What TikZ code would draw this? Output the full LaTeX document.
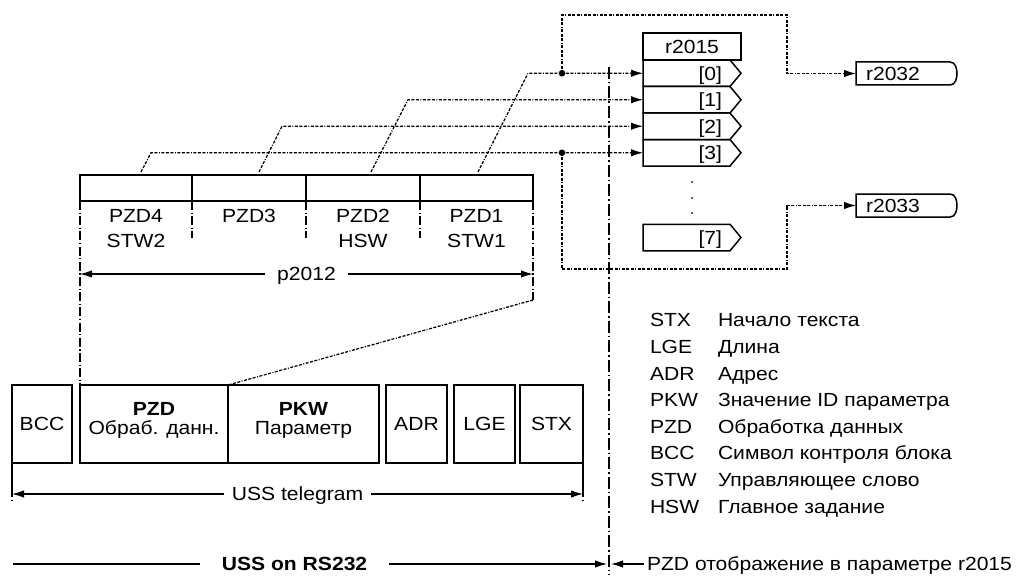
\documentclass[tikz,border=0pt]{standalone}
\usepackage{fontspec}
\setmainfont{Liberation Sans}[FakeStretch=1.11]
\usetikzlibrary{arrows.meta}
\newcommand\fsz{\fontsize{19pt}{22pt}\selectfont}
\begin{document}
\begin{tikzpicture}[x=1pt,y=-1pt,
  every node/.style={font=\fsz, inner sep=0pt, outer sep=0pt},
  txt/.style={text height=13.6pt, text depth=0pt},
  box/.style={draw, line width=1.5pt, inner sep=0pt, outer sep=0pt},
  ln/.style={line width=1.5pt},
  fine/.style={line width=1.25pt, dash pattern=on 3pt off 1.5pt on 3pt off 1.5pt on 3pt off 1.5pt on 1pt off 1.5pt},
  dd/.style={line width=1.2pt, dash pattern=on 9pt off 2.5pt on 1.2pt off 2.5pt},
  cl/.style={line width=1.4pt, dash pattern=on 12pt off 3pt on 1.5pt off 3pt},
  tip/.style={-{Latex[length=12pt,width=7.5pt]}},
  dtip/.style={{Latex[length=12pt,width=7.5pt]}-{Latex[length=12pt,width=7.5pt]}},
  rowb/.style={txt, minimum height=26.5pt, text width=71pt, align=right, inner xsep=8pt},
  outb/.style={txt, minimum height=23pt, text width=74pt, align=left, inner xsep=10pt},
]
\useasboundingbox (0,0) rectangle (1024,575);

% ---------- PZD table ----------
\node[box, minimum width=112pt, minimum height=26pt] (c4) at (136,188) {};
\node[box, minimum width=114pt, minimum height=26pt] (c3) at (249,188) {};
\node[box, minimum width=114pt, minimum height=26pt] (c2) at (363,188) {};
\node[box, minimum width=113pt, minimum height=26pt] (c1) at (476.5,188) {};
\node[txt] (t4a) at (136,216) {PZD4};
\node[txt] (t4b) at (136,241) {STW2};
\node[txt] (t3a) at (249,216) {PZD3};
\node[txt] (t2a) at (363,216) {PZD2};
\node[txt] (t2b) at (363,241) {HSW};
\node[txt] (t1a) at (476.5,216) {PZD1};
\node[txt] (t1b) at (476.5,241) {STW1};
\foreach \c in {c4,c3,c2} \draw[dd] (\c.south east) -- ++(0,37);

% ---------- bottom telegram boxes ----------
\node[box, minimum width=60pt, minimum height=78pt] (bcc) at (42,424) {};
\node[box, minimum width=148pt, minimum height=78pt] (pzd) at (154,424) {};
\node[box, minimum width=151pt, minimum height=78pt] (pkw) at (303.5,424) {};
\node[box, txt, minimum width=61pt, minimum height=78pt] (adr) at (416.5,424) {ADR};
\node[box, txt, minimum width=61pt, minimum height=78pt] (lge) at (484.5,424) {LGE};
\node[box, txt, minimum width=63pt, minimum height=78pt] (stx) at (551.5,424) {STX};
\node[txt] (bcct) at (42,424) {BCC};
\node[txt, font=\fsz\bfseries] (pzdt1) at (154,409) {PZD};
\node[txt] (pzdt2) at (154,428) {Обраб. данн.};
\node[txt, font=\fsz\bfseries] (pkwt1) at (303.5,409) {PKW};
\node[txt] (pkwt2) at (303.5,428) {Параметр};

% outer projection lines
\coordinate (rb) at (533,300);
\draw[dd] (c4.south west) -- (pzd.north west);
\draw[dd] (c1.south east) -- (rb);
\draw[fine] (rb) -- (pzd.north east);

% p2012
\coordinate (pl) at (80,274);
\coordinate (pr) at (533,274);
\draw[dtip, line width=1.2pt] (pl) -- (pr) node[midway, fill=white, inner xsep=12pt, txt] {p2012};

% ---------- r2015 block ----------
\node[box, txt, minimum width=98pt, minimum height=27pt] (r15) at (692,46.5) {r2015};
\node[rowb] (s0) at (686.5,73.25) {[0]};
\node[rowb] (s1) at (686.5,99.75) {[1]};
\node[rowb] (s2) at (686.5,126.25) {[2]};
\node[rowb] (s3) at (686.5,152.75) {[3]};
\node[rowb] (s7) at (686.5,237.5) {[7]};
\foreach \s in {s0,s1,s2,s3,s7}
  \draw[ln, line join=miter] (\s.north west) -- (\s.north east) -- ([xshift=11pt]\s.east) -- (\s.south east) -- (\s.south west) -- cycle;
\fill (692,182) circle (1pt);
\fill (692,198) circle (1pt);
\fill (692,213) circle (1pt);

% outputs
\node[outb] (r32) at (903,73.5) {r2032};
\node[outb] (r33) at (903,205.5) {r2033};
\foreach \r in {r32,r33}
  \draw[ln] (\r.north west) -- (\r.north east) to[out=0,in=90] ([xshift=7pt]\r.east) to[out=-90,in=0] (\r.south east) -- (\r.south west) -- cycle;

% ---------- PZD -> r2015 connectors ----------
\coordinate (k4) at (141,172);
\coordinate (h4) at (s3.west -| 151,0);
\coordinate (k3) at (259,172);
\coordinate (h3) at (s2.west -| 282,0);
\coordinate (k2) at (371,172);
\coordinate (h2) at (s1.west -| 408,0);
\coordinate (k1) at (478,172);
\coordinate (h1) at (s0.west -| 528,0);
\draw[fine, tip] (k4) -- (h4) -- (s3.west);
\draw[fine, tip] (k3) -- (h3) -- (s2.west);
\draw[fine, tip] (k2) -- (h2) -- (s1.west);
\draw[fine, tip] (k1) -- (h1) -- (s0.west);

% branch to r2032 / r2033
\coordinate (j0) at (s0.west -| 562,0);
\coordinate (j3) at (s3.west -| 562,0);
\coordinate (u0) at (562,15);
\coordinate (u1) at (787,15);
\coordinate (u2) at (r32.west -| 787,0);
\coordinate (d0) at (562,269);
\coordinate (d1) at (787,269);
\coordinate (d2) at (r33.west -| 787,0);
\draw[fine, tip] (j0) -- (u0) -- (u1) -- (u2) -- (r32.west);
\draw[fine, tip] (j3) -- (d0) -- (d1) -- (d2) -- (r33.west);
\fill (j0) circle (3.3pt);
\fill (j3) circle (3.3pt);

% centre line
\coordinate (ct) at (609,67);
\coordinate (cb) at (609,575);
\draw[cl] (ct) -- (cb);

% ---------- USS telegram ----------
\draw[ln] (bcc.south west) -- ++(0,25) coordinate (tl);
\draw[dd] (tl) -- ++(0,15);
\draw[ln] (stx.south east) -- ++(0,25) coordinate (tr);
\draw[dd] (tr) -- ++(0,15);
\coordinate (al) at (12,494);
\coordinate (ar) at (583,494);
\draw[dtip, line width=1.2pt] (al) -- (ar) node[midway, fill=white, inner xsep=8pt, txt] {USS telegram};

% ---------- bottom line ----------
\coordinate (bl) at (13,564);
\coordinate (bm) at (607,564);
\draw[tip, line width=1.2pt] (bl) -- (bm) node[pos=0.474, fill=white, inner xsep=22pt, txt, font=\fsz\bfseries] {USS on RS232};
\node[txt, anchor=west] (map) at (647,564) {PZD отображение в параметре r2015};
\coordinate (bn) at (611,564);
\draw[tip, line width=1.2pt] ([xshift=-3pt]map.west) -- (bn);

% ---------- legend ----------
\foreach \a/\b [count=\i from 0] in {STX/Начало текста, LGE/Длина, ADR/Адрес, PKW/Значение ID параметра, PZD/Обработка данных, BCC/Символ контроля блока, STW/Управляющее слово, HSW/Главное задание} {
  \node[txt, anchor=west] (la\i) at (650,320+26.6*\i) {\a};
  \node[txt, anchor=west] (lb\i) at (718,320+26.6*\i) {\b};
}
\end{tikzpicture}
\end{document}
